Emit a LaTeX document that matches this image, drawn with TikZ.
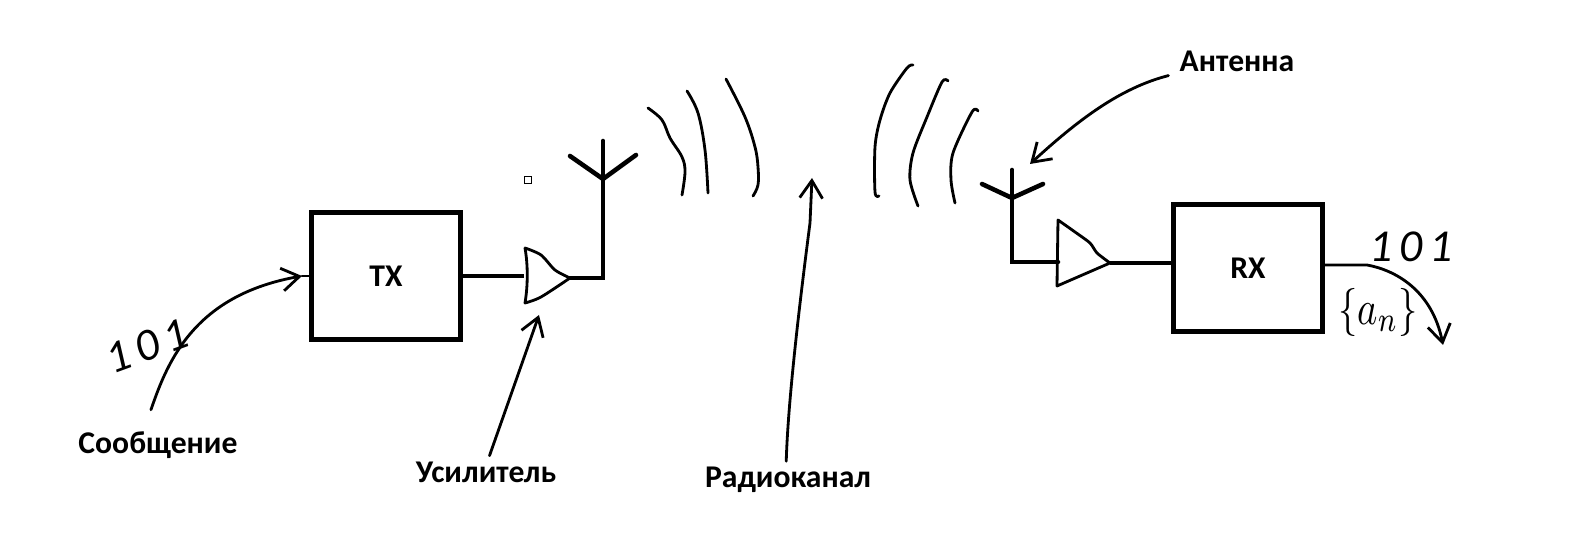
\documentclass[tikz,border=0pt]{standalone}
\usepackage{fontspec}
\setmainfont{Carlito}
\usetikzlibrary{arrows.meta}
\tikzset{
  block/.style={draw,line width=1.3pt,minimum width=1.49cm,minimum height=1.27cm,inner sep=0pt,font=\fontsize{9}{11}\selectfont\bfseries},
  caption/.style={inner sep=0pt,font=\fontsize{9}{11}\selectfont\bfseries},
  hand/.style={inner sep=0pt,font=\fontsize{13}{15}\selectfont\itshape\addfontfeature{LetterSpace=15}},
  wire/.style={line width=1.3pt},
  thin wire/.style={line width=0.8pt,line cap=round,line join=round},
  pointer/.style={line width=0.8pt,line cap=round,line join=round,-{Straight Barb[length=5pt,width=6.5pt]}}
}
\begin{document}
\begin{tikzpicture}[x=0.01cm,y=-0.01cm]
  \useasboundingbox (0,0) rectangle (1590,555);
  % blocks
  \node[block] (tx) at (386,276) {TX};
  \node[block] (rx) at (1248,268) {RX};
  % amplifier of the transmitter
  \coordinate (txamp) at (524,276);
  \coordinate (txtip) at (570,278);
  \draw[thin wire] plot[smooth,tension=0.5] coordinates {(525,248) (541,255) (555,270) (570,278)} -- plot[smooth,tension=0.5] coordinates {(570,278) (541,297) (525,303)} .. controls (528,285) and (528,265) .. (525,248);
  \draw[wire] (tx) -- (txamp);
  % antenna of the transmitter
  \coordinate (txfoot) at (603,278);
  \coordinate (txroot) at (603,179);
  \draw[wire,line cap=round] (txtip) -- (txfoot) -- (603,141);
  \draw[wire,line cap=round] (570,156) -- (txroot) -- (636,155);
  % amplifier of the receiver
  \coordinate (rxamp) at (1058,262);
  \coordinate (rxtip) at (1110,263);
  \draw[thin wire] plot[smooth,tension=0.4] coordinates {(1058,220) (1075,232) (1090,243) (1097,253) (1110,263)} -- (1057,286) -- cycle;
  \draw[wire] (rxtip) -- (rx.west |- rxtip);
  % antenna of the receiver
  \coordinate (rxfoot) at (1012,262);
  \coordinate (rxroot) at (1012,198);
  \draw[wire,line cap=round] (rxamp) -- (rxfoot) -- (1012,170);
  \draw[wire,line cap=round] (982,184) -- (rxroot) -- (1043,184);
  % waves
  \draw[thin wire] plot[smooth,tension=0.6] coordinates {(648,108) (662,120) (670,138) (682,157) (685,172) (682,195)};
  \draw[thin wire] plot[smooth,tension=0.6] coordinates {(687,91) (698,113) (705,150) (708,193)};
  \draw[thin wire] plot[smooth,tension=0.6] coordinates {(726,79) (745,117) (755,147) (758,167) (758,185) (753,196)};
  \draw[thin wire] plot[smooth,tension=0.5] coordinates {(913,65) (907,68) (890,93) (880,120) (875,147) (875,192) (879,196)};
  \draw[thin wire] plot[smooth,tension=0.5] coordinates {(948,81) (942,82) (927,117) (913,153) (910,180) (918,206)};
  \draw[thin wire] plot[smooth,tension=0.5] coordinates {(978,111) (972,112) (953,153) (951,180) (955,203)};
  % captions
  \node[caption] (msg) at (158,445) {Сообщение};
  \node[caption] (amplabel) at (486,472) {Усилитель};
  \node[caption] (chan) at (788,480) {Радиоканал};
  \node[caption] (ant) at (1237,61) {Антенна};
  % handwritten
  \node[hand,rotate=20] (bits) at (147,346) {101};
  \node[hand] (bitsout) at (1411,247) {101};
  \node[hand,font=\fontsize{11}{13}\selectfont,transform shape,yscale=1.25] (seq) at (1378,312) {$\{a_n\}$};
  % pointers
  \coordinate (txin) at (302,276);
  \coordinate (amppoint) at (539,315);
  \coordinate (chanpoint) at (812,178);
  \coordinate (antpoint) at (1030,164);
  \coordinate (rxout) at (1443,345);
  \draw[pointer] ([xshift=-2pt,yshift=6pt]msg.north) .. controls (168,360) and (195,295) .. (txin);
  \draw[thin wire] (txin) -- (tx.west);
  \draw[pointer] ([xshift=1pt,yshift=1.5pt]amplabel.north) -- (amppoint);
  \draw[pointer] ([xshift=-0.5pt,yshift=1.5pt]chan.north) .. controls (788,400) and (800,300) .. (810,223) -- (chanpoint);
  \draw[pointer] ([xshift=-3pt,yshift=-1pt]ant.south west) .. controls (1120,88) and (1078,120) .. (antpoint);
  \draw[pointer] (rx.east |- 0,265) -- (1367,265) .. controls (1395,270) and (1432,290) .. (rxout);
  % small square
  \node[draw,line width=0.2pt,minimum size=0.07cm,inner sep=0pt] (dot) at (528,180) {};
\end{tikzpicture}
\end{document}
